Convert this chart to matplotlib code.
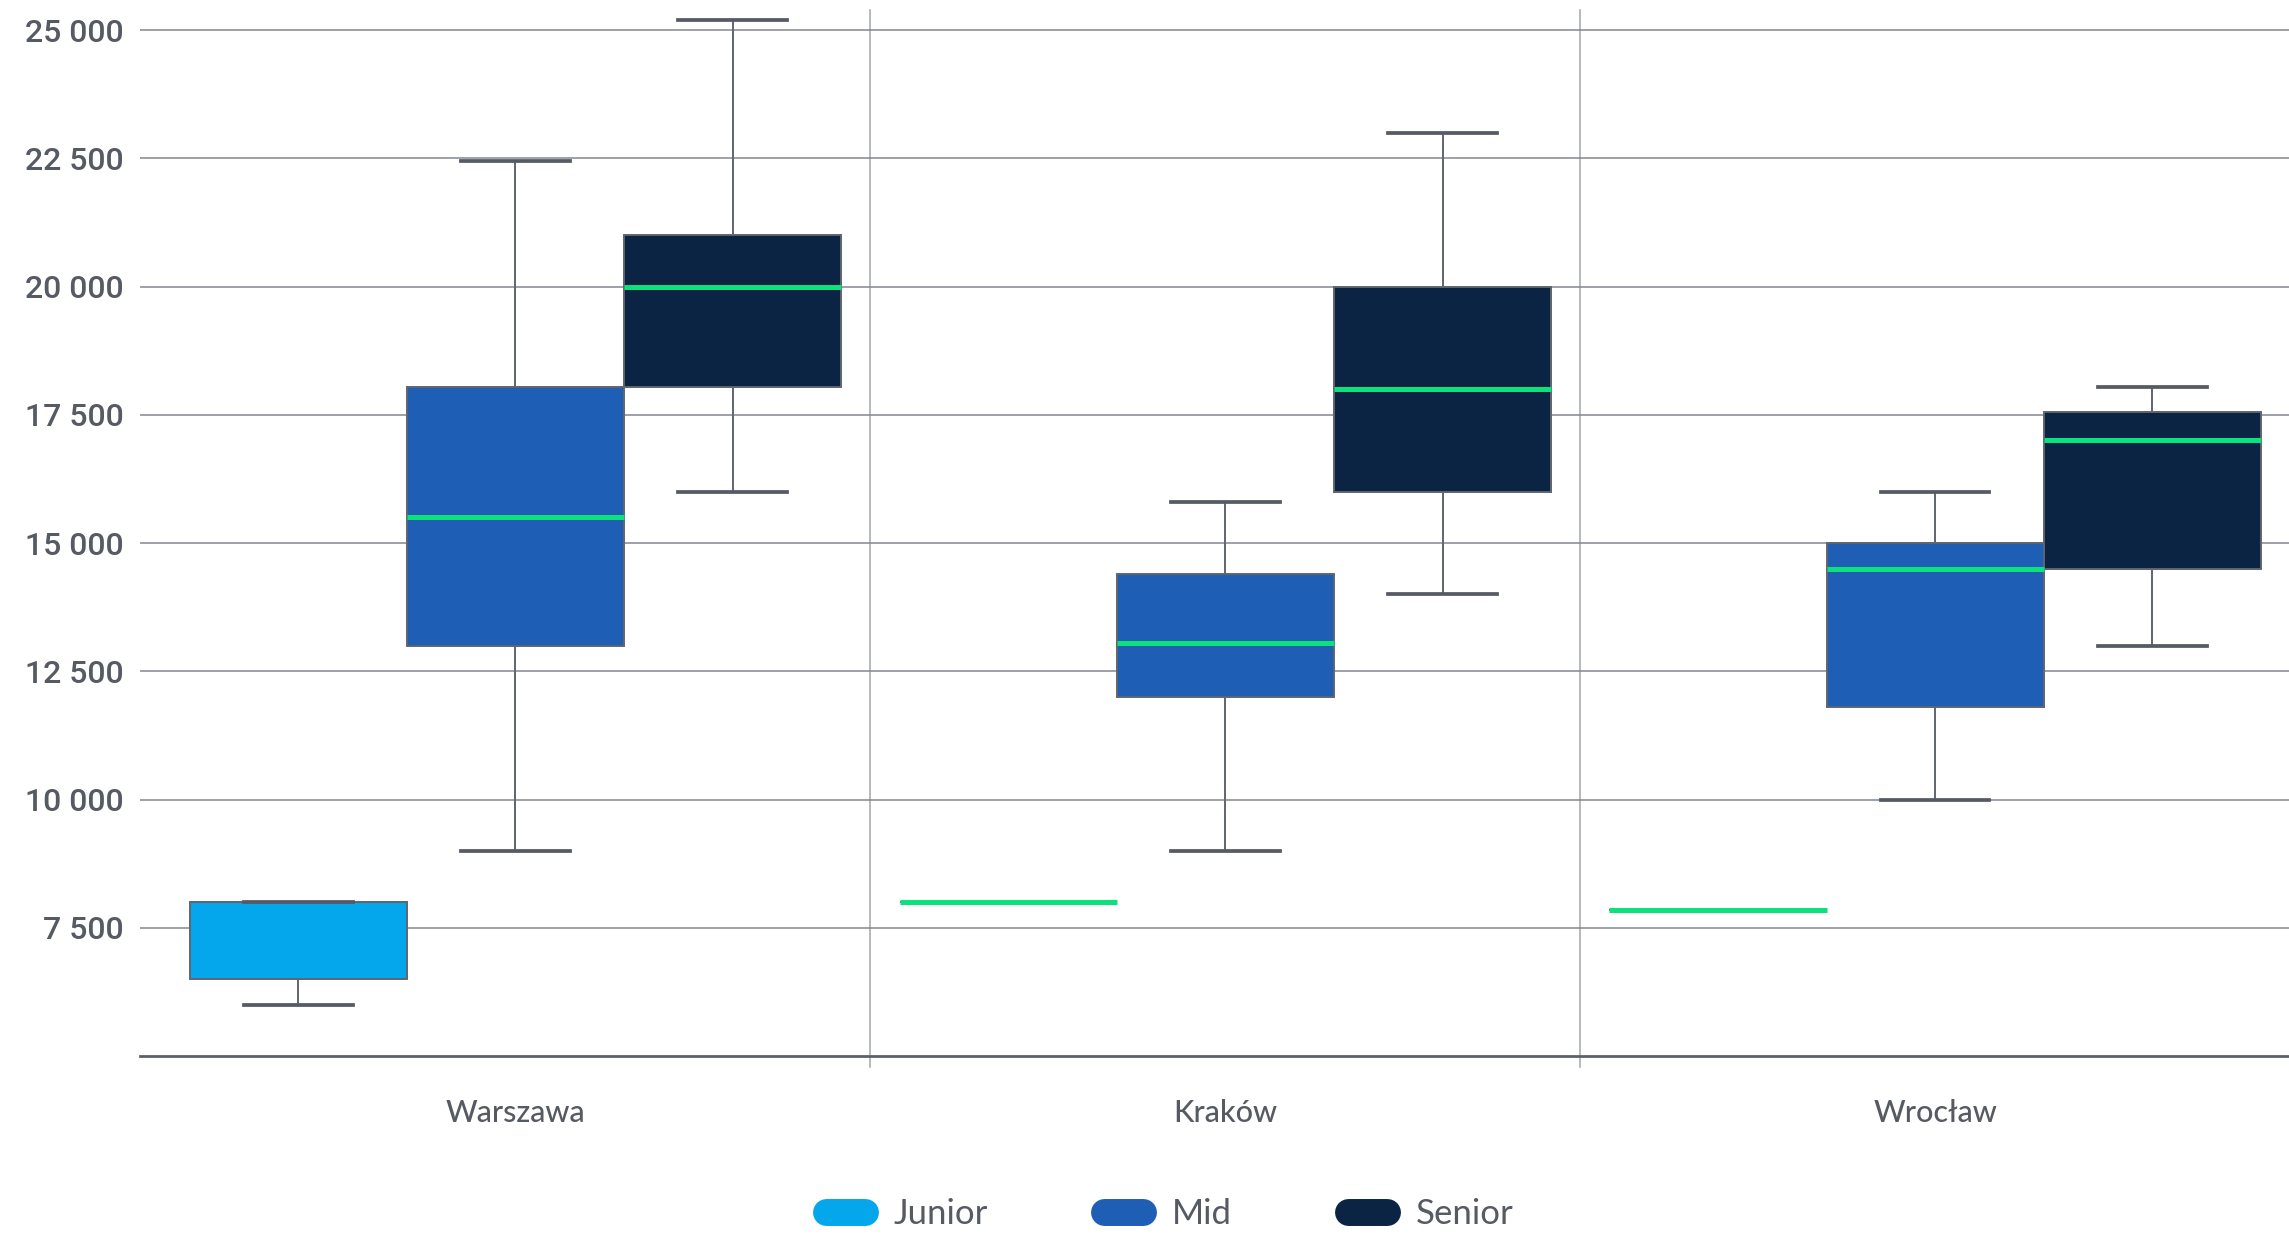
import numpy as np
import matplotlib
matplotlib.use("Agg")
import matplotlib.pyplot as plt
from matplotlib.lines import Line2D

# ---------------- data ----------------
cities = ["Warszawa", "Kraków", "Wrocław"]
levels = ["Junior", "Mid", "Senior"]

junior_low  = [6000, 8000, 7850]
junior_q1   = [6500, 8000, 7850]
junior_med  = [np.nan, 8000, 7850]   # median not shown for Warszawa
junior_q3   = [8000, 8000, 7850]
junior_high = [8000, 8000, 7850]

mid_low  = [9000, 9000, 10000]
mid_q1   = [13000, 12000, 11800]
mid_med  = [15500, 13050, 14500]
mid_q3   = [18050, 14400, 15000]
mid_high = [22450, 15800, 16000]

senior_low  = [16000, 14000, 13000]
senior_q1   = [18050, 16000, 14500]
senior_med  = [20000, 18000, 17000]
senior_q3   = [21000, 20000, 17550]
senior_high = [25200, 23000, 18050]

y_ticks = [7500, 10000, 12500, 15000, 17500, 20000, 22500, 25000]

# ---------------- style ----------------
colors = {"Junior": "#05a7ec", "Mid": "#1e5eb5", "Senior": "#0b2444"}
median_color = "#0ce27b"
edge_color = "#60656e"
cap_color = "#555a64"
text_color = "#555a63"
grid_color = "#83878f"

series = {
    "Junior": (junior_low, junior_q1, junior_med, junior_q3, junior_high),
    "Mid": (mid_low, mid_q1, mid_med, mid_q3, mid_high),
    "Senior": (senior_low, senior_q1, senior_med, senior_q3, senior_high),
}

W, H = 2289, 1234
fig = plt.figure(figsize=(W / 100, H / 100), dpi=100)
ax = fig.add_axes([140 / W, 1 - 1056 / H, 1 - 140 / W, (1056 - 10) / H])

box_w = 0.306
offsets = {"Junior": -box_w, "Mid": 0.0, "Senior": box_w}
x = np.arange(len(cities))

for lvl in levels:
    lo, q1, med, q3, hi = series[lvl]
    stats = []
    for i in range(len(cities)):
        stats.append(dict(whislo=lo[i], q1=q1[i], med=med[i], q3=q3[i],
                          whishi=hi[i], fliers=[]))
    ax.bxp(stats, positions=x + offsets[lvl], widths=box_w,
           patch_artist=True, showfliers=False, manage_ticks=False,
           boxprops=dict(facecolor=colors[lvl], edgecolor=edge_color, linewidth=1.4),
           whiskerprops=dict(color=edge_color, linewidth=1.4),
           capprops=dict(color=cap_color, linewidth=2.7),
           medianprops=dict(color=median_color, linewidth=3.6, zorder=5))

# separators between cities
for sep in (x[:-1] + 0.5):
    ax.axvline(sep, ymin=-0.0105, ymax=1, color="#a3a6ac", lw=1.1,
               clip_on=False, zorder=0.5)

ax.set_xlim(-0.529, 2.4985)
ax.set_ylim(5000, 25390)

ax.set_yticks(y_ticks)
ax.set_yticklabels([f"{v:,}".replace(",", " ") for v in y_ticks],
                   fontfamily="Roboto", fontweight="medium", fontsize=23,
                   color=text_color)
ax.set_xticks(x)
ax.set_xticklabels(cities, fontfamily="Lato", fontweight="medium",
                   fontsize=22, color=text_color)
ax.tick_params(axis="both", length=0)
ax.tick_params(axis="y", pad=12)
ax.tick_params(axis="x", pad=31)

ax.yaxis.grid(True, color=grid_color, linewidth=1.1, zorder=0)
ax.set_axisbelow(True)
for s in ("top", "right", "left"):
    ax.spines[s].set_visible(False)
ax.spines["bottom"].set_color("#5b606a")
ax.spines["bottom"].set_linewidth(2.0)
ax.spines["bottom"].set_zorder(6)

handles = [Line2D([], [], color=colors[l], lw=19.4, solid_capstyle="round")
           for l in levels]
fig.legend(handles, levels, loc="center", bbox_to_anchor=(0.511, 0.016),
           ncol=3, frameon=False, prop={"family": "Lato", "size": 25},
           labelcolor=text_color, handlelength=1.12, handletextpad=0.83,
           columnspacing=3.35)

fig.savefig("out.png", dpi=100)
